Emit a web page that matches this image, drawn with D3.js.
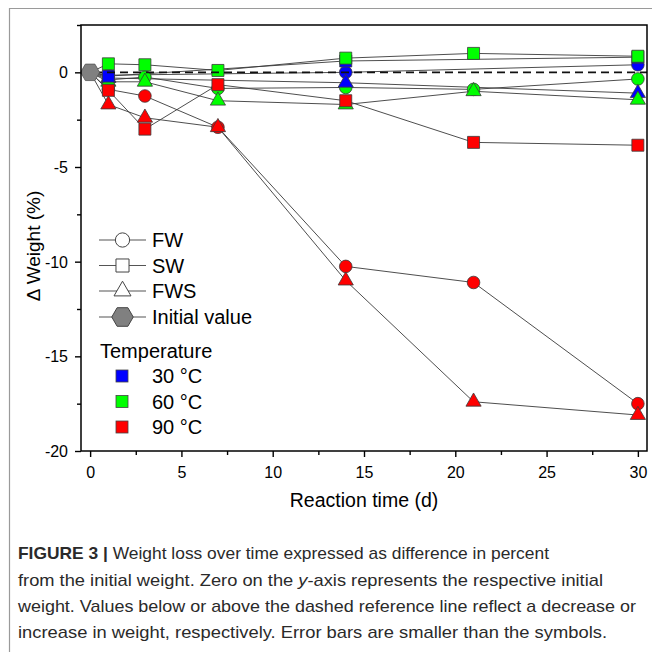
<!DOCTYPE html>
<html>
<head>
<meta charset="utf-8">
<script src="https://cdn.jsdelivr.net/npm/d3@7"></script>
<style>
  body { margin: 0; background: #fff; }
  svg { display: block; }
  text { font-family: "Liberation Sans", Arial, sans-serif; }
</style>
</head>
<body>
<svg id="chart" width="652" height="652"></svg>
<script>
// Sampling days (30 °C series were sampled less often)
const days = [0, 1, 3, 7, 14, 21, 30];
const days30 = [0, 1, 14, 30];

// Weight change (%) per sample type and temperature
const fw30  = [0, -0.15, 0.0, 0.4];
const sw30  = [0, -0.2, 0.6, 0.8];
const fws30 = [0, -0.3, -0.55, -1.1];
const fw60  = [0, -0.4, -0.25, -0.85, -0.8, -0.9, -0.35];
const sw60  = [0, 0.45, 0.4, 0.1, 0.75, 1.0, 0.85];
const fws60 = [0, -0.5, -0.5, -1.5, -1.7, -1.0, -1.45];
const fw90  = [0, -0.9, -1.25, -2.9, -10.25, -11.1, -17.5];
const sw90  = [0, -0.95, -3.0, -0.65, -1.5, -3.7, -3.85];
const fws90 = [0, -1.7, -2.4, -2.9, -11.0, -17.4, -18.1];

const initialDay = [0];
const initialValue = [0];

const xTicks = [0, 5, 10, 15, 20, 25, 30];
const xMinorTicks = [2.5, 7.5, 12.5, 17.5, 22.5, 27.5];
const yTicks = [-20, -15, -10, -5, 0];
const yMinorTicks = [-17.5, -12.5, -7.5, -2.5, 2.5];

const sampleNames = ["FW", "SW", "FWS"];
const temperatureNames = ["30 °C", "60 °C", "90 °C"];
const temperatureColors = ["#0000ff", "#00ff00", "#ff0000"];

const captionBold = "FIGURE 3 | ";
const captionLines = [
  "Weight loss over time expressed as difference in percent",
  "from the initial weight. Zero on the y-axis represents the respective initial",
  "weight. Values below or above the dashed reference line reflect a decrease or",
  "increase in weight, respectively. Error bars are smaller than the symbols."
];

// ---- series table built from the arrays above
const seriesValues = {
  FW: [fw30, fw60, fw90],
  SW: [sw30, sw60, sw90],
  FWS: [fws30, fws60, fws90]
};
const series = [];
sampleNames.forEach(s => {
  temperatureNames.forEach((t, ti) => {
    const xs = ti === 0 ? days30 : days;
    series.push({
      sample: s, temp: ti,
      points: xs.map((d, i) => ({ x: d, y: seriesValues[s][ti][i] }))
    });
  });
});

// Regular hexagon, pointed left/right
const symbolHexagon = {
  draw(ctx, size) {
    const r = Math.sqrt(size * 2 / (3 * Math.sqrt(3)));
    for (let i = 0; i < 6; i++) {
      const a = i * Math.PI / 3;
      const px = r * Math.cos(a), py = r * Math.sin(a);
      if (i === 0) ctx.moveTo(px, py); else ctx.lineTo(px, py);
    }
    ctx.closePath();
  }
};

const symbolFor = { FW: d3.symbolCircle, SW: d3.symbolSquare, FWS: d3.symbolTriangle };
const sizeFor = { FW: 125, SW: 144, FWS: 100 };
const legendSizeFor = { FW: 160, SW: 170, FWS: 125 };

const svg = d3.select("#chart");

// outer figure frame
svg.append("path")
  .attr("d", "M9.5,652 V8.5 H652")
  .attr("fill", "none")
  .attr("stroke", "#9a9a9a")
  .attr("stroke-width", 1.2);

const plot = { left: 81, right: 647, top: 25, bottom: 451 };

const x = d3.scaleLinear().domain([-0.5, 30.5]).range([plot.left, plot.right]);
const y = d3.scaleLinear().domain([-20, 2.5]).range([plot.bottom, plot.top]);

// axes
const xAxis = svg.append("g")
  .attr("transform", `translate(0,${plot.bottom})`)
  .call(d3.axisBottom(x).tickValues(xTicks).tickFormat(d => String(d)).tickSize(6).tickSizeOuter(0));
const xMinor = svg.append("g")
  .attr("transform", `translate(0,${plot.bottom})`)
  .call(d3.axisBottom(x).tickValues(xMinorTicks).tickFormat("").tickSize(4).tickSizeOuter(0));
const yAxis = svg.append("g")
  .attr("transform", `translate(${plot.left},0)`)
  .call(d3.axisLeft(y).tickValues(yTicks).tickFormat(d => String(d)).tickSize(6).tickSizeOuter(0));
const yMinor = svg.append("g")
  .attr("transform", `translate(${plot.left},0)`)
  .call(d3.axisLeft(y).tickValues(yMinorTicks).tickFormat("").tickSize(4).tickSizeOuter(0));

[xAxis, xMinor, yAxis, yMinor].forEach(g => {
  g.select(".domain").remove();
  g.selectAll(".tick line").attr("stroke", "#000").attr("stroke-width", 1.4);
  g.selectAll(".tick text")
    .attr("fill", "#000")
    .style("font-size", "16px")
    .style("font-family", "'Liberation Sans', Arial, sans-serif");
});
xAxis.selectAll(".tick text").attr("y", 15.5).attr("dy", "0.71em");
yAxis.selectAll(".tick text").attr("x", -13).attr("dy", "0.35em");

// data lines
const line = d3.line().x(d => x(d.x)).y(d => y(d.y));
const lineLayer = svg.append("g");
series.forEach(s => {
  lineLayer.append("path")
    .datum(s.points)
    .attr("d", line)
    .attr("fill", "none")
    .attr("stroke", "#3a3a3a")
    .attr("stroke-width", 0.9);
});

// markers: circles, then triangles, then squares; 30 → 60 → 90 °C within each
const markerLayer = svg.append("g");
["FW", "FWS", "SW"].forEach(sample => {
  series.filter(s => s.sample === sample).forEach(s => {
    markerLayer.selectAll(null)
      .data(s.points.filter(p => p.x > 0))
      .join("path")
      .attr("transform", p => `translate(${x(p.x)},${y(p.y)})`)
      .attr("d", d3.symbol(symbolFor[sample], sizeFor[sample]))
      .attr("fill", temperatureColors[s.temp])
      .attr("stroke", "#3a3a3a")
      .attr("stroke-width", 0.8);
  });
});

// zero reference line
svg.append("line")
  .attr("x1", x(-0.5)).attr("x2", x(30.5))
  .attr("y1", y(0)).attr("y2", y(0))
  .attr("stroke", "#111")
  .attr("stroke-width", 1.8)
  .attr("stroke-dasharray", "8,5");

// initial value
svg.append("g").selectAll("path")
  .data(initialDay.map((d, i) => ({ x: d, y: initialValue[i] })))
  .join("path")
  .attr("transform", p => `translate(${x(p.x)},${y(p.y)})`)
  .attr("d", d3.symbol(symbolHexagon, 235))
  .attr("fill", "#808080")
  .attr("stroke", "#555")
  .attr("stroke-width", 0.8);

// plot frame
svg.append("rect")
  .attr("x", plot.left).attr("y", plot.top)
  .attr("width", plot.right - plot.left)
  .attr("height", plot.bottom - plot.top)
  .attr("fill", "none")
  .attr("stroke", "#000")
  .attr("stroke-width", 1.5);

// axis titles
svg.append("text")
  .attr("x", (plot.left + plot.right) / 2)
  .attr("y", 507)
  .attr("text-anchor", "middle")
  .style("font-size", "19.5px")
  .attr("fill", "#000")
  .text("Reaction time (d)");

svg.append("text")
  .attr("transform", `translate(40,${(plot.top + plot.bottom) / 2 + 8}) rotate(-90)`)
  .attr("text-anchor", "middle")
  .style("font-size", "19px")
  .attr("fill", "#000")
  .text("Δ Weight (%)");

// legend: sample types
const legend = svg.append("g");
const legendRows = [
  { label: "FW", sym: d3.symbolCircle, size: legendSizeFor.FW, fill: "#fff" },
  { label: "SW", sym: d3.symbolSquare, size: legendSizeFor.SW, fill: "#fff" },
  { label: "FWS", sym: d3.symbolTriangle, size: legendSizeFor.FWS, fill: "#fff" },
  { label: "Initial value", sym: symbolHexagon, size: 300, fill: "#808080" }
];
const legendY = [240, 265.5, 291, 317];
legendRows.forEach((r, i) => {
  const cy = legendY[i];
  legend.append("line")
    .attr("x1", 99).attr("x2", 146)
    .attr("y1", cy).attr("y2", cy)
    .attr("stroke", "#555").attr("stroke-width", 1.1);
  legend.append("path")
    .attr("transform", `translate(122.5,${cy})`)
    .attr("d", d3.symbol(r.sym, r.size))
    .attr("fill", r.fill)
    .attr("stroke", "#444")
    .attr("stroke-width", 1);
  legend.append("text")
    .attr("x", 152).attr("y", cy).attr("dy", "0.35em")
    .style("font-size", "20px")
    .attr("fill", "#000")
    .text(r.label);
});

// legend: temperatures
legend.append("text")
  .attr("x", 100).attr("y", 351).attr("dy", "0.35em")
  .style("font-size", "20px")
  .attr("fill", "#000")
  .text("Temperature");
const tempY = [376, 401.5, 427];
temperatureNames.forEach((t, i) => {
  legend.append("rect")
    .attr("x", 116).attr("y", tempY[i] - 6)
    .attr("width", 12).attr("height", 12)
    .attr("fill", temperatureColors[i])
    .attr("stroke", "#444").attr("stroke-width", 0.8);
  legend.append("text")
    .attr("x", 152).attr("y", tempY[i]).attr("dy", "0.35em")
    .style("font-size", "20px")
    .attr("fill", "#000")
    .text(t);
});

// caption
const captionBaselines = [559, 586, 612, 638];
const captionWidths = [531, 585, 618, 589];
captionLines.forEach((ln, i) => {
  const t = svg.append("text")
    .attr("x", 18).attr("y", captionBaselines[i])
    .attr("textLength", captionWidths[i])
    .attr("lengthAdjust", "spacingAndGlyphs")
    .style("font-size", "17px")
    .attr("fill", "#2a2a2a");
  if (i === 0) {
    t.append("tspan").style("font-weight", "bold").text(captionBold);
    t.append("tspan").text(ln);
  } else if (i === 1) {
    const parts = ln.split("y-axis");
    t.append("tspan").text(parts[0]);
    t.append("tspan").style("font-style", "italic").text("y");
    t.append("tspan").text("-axis" + parts[1]);
  } else {
    t.text(ln);
  }
});
</script>
</body>
</html>
